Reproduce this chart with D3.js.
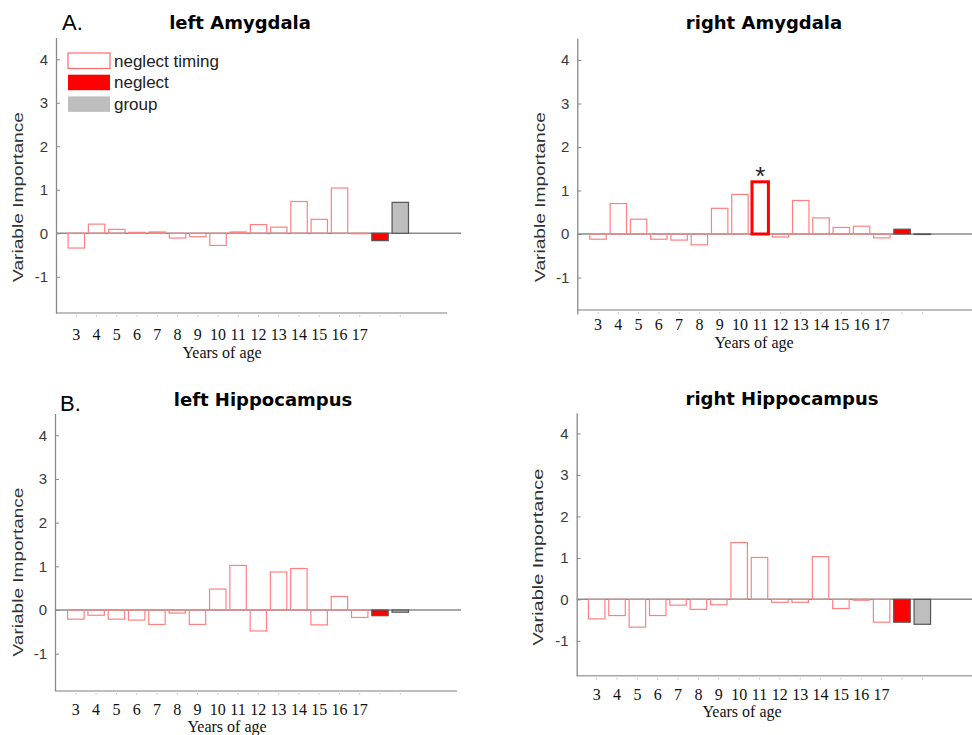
<!DOCTYPE html>
<html lang="en">
<head>
  <meta charset="UTF-8">
  <title>Variable Importance by age of neglect</title>
  <script src="https://d3js.org/d3.v7.min.js"></script>
</head>
<body style="margin: 0; background: #fff;">
<script>
  // data
  const ages = ["3", "4", "5", "6", "7", "8", "9", "10", "11", "12", "13", "14", "15", "16", "17"];
  const regions = ["left Amygdala", "right Amygdala", "left Hippocampus", "right Hippocampus"];

  const timingLeftAmygdala = [-0.34, 0.21, 0.09, 0.02, 0.03, -0.11, -0.08, -0.28, 0.03, 0.20, 0.14, 0.73, 0.32, 1.04, 0.0];
  const timingRightAmygdala = [-0.12, 0.70, 0.34, -0.12, -0.14, -0.25, 0.59, 0.91, 1.20, -0.07, 0.77, 0.37, 0.15, 0.18, -0.09];
  const timingLeftHippocampus = [-0.21, -0.12, -0.21, -0.23, -0.33, -0.07, -0.33, 0.48, 1.02, -0.48, 0.87, 0.95, -0.34, 0.31, -0.17];
  const timingRightHippocampus = [-0.47, -0.39, -0.67, -0.39, -0.14, -0.24, -0.13, 1.37, 1.01, -0.07, -0.07, 1.03, -0.22, -0.02, -0.55];

  const neglectValues = [-0.17, 0.11, -0.13, -0.55];
  const groupValues = [0.71, -0.01, -0.05, -0.60];

  const starredRegion = "right Amygdala";
  const starredAge = "11";

  const legendLabels = ["neglect timing", "neglect", "group"];
  const yTicks = [-1, 0, 1, 2, 3, 4];
  const yDomain = [-1.84, 4.5];

  const timingByRegion = [timingLeftAmygdala, timingRightAmygdala, timingLeftHippocampus, timingRightHippocampus];

  // panel placement
  const panels = [
    { tag: "A.", tagX: 62, tagY: 30, x0: 56, top: 37.5, bottom: 313.3, axisY: 313, axisEnd: 447, lineEnd: 461,
      barStart: 66.2, barEnd: 410.4, titleX: 240, titleY: 29, tickY: 339.5, xlabX: 222, xlabY: 358,
      ylabX: 23, ylabY: 197, ylabLen: 170, legend: true },
    { tag: null, x0: 577.3, top: 38.3, bottom: 314, axisY: 310, axisEnd: 972, lineEnd: 972,
      barStart: 587.9, barEnd: 932.5, titleX: 764, titleY: 29, tickY: 330, xlabX: 754, xlabY: 348,
      ylabX: 545, ylabY: 197, ylabLen: 170, legend: false },
    { tag: "B.", tagX: 60, tagY: 411, x0: 55, top: 413.4, bottom: 690.4, axisY: 691, axisEnd: 457, lineEnd: 461,
      barStart: 65.7, barEnd: 410.4, titleX: 263, titleY: 406, tickY: 714.5, xlabX: 227, xlabY: 732,
      ylabX: 23, ylabY: 572, ylabLen: 169, legend: false },
    { tag: null, x0: 576.7, top: 412.7, bottom: 675.7, axisY: 675.7, axisEnd: 972, lineEnd: 972,
      barStart: 586.5, barEnd: 932.5, titleX: 782, titleY: 405, tickY: 699.5, xlabX: 742, xlabY: 717,
      ylabX: 543, ylabY: 557, ylabLen: 177, legend: false }
  ];

  const timingColor = "#ff8080";
  const neglectColor = "#ff0000";
  const groupColor = "#bebebe";
  const axisColor = "#8a8a8a";

  const svg = d3.select("body").append("svg")
    .attr("width", 972)
    .attr("height", 735)
    .style("display", "block");

  const categories = ages.concat(["neglect", "group"]);

  panels.forEach((p, i) => {
    const region = regions[i];
    const g = svg.append("g");

    const x = d3.scaleBand()
      .domain(categories)
      .range([p.barStart, p.barEnd])
      .paddingInner(0.19)
      .paddingOuter(0.095);

    const y = d3.scaleLinear().domain(yDomain).range([p.bottom, p.top]);

    const bars = ages.map((a, k) => ({ key: a, value: timingByRegion[i][k], kind: "timing" }))
      .concat([
        { key: "neglect", value: neglectValues[i], kind: "neglect" },
        { key: "group", value: groupValues[i], kind: "group" }
      ]);

    // bottom axis line + small ticks
    g.append("line")
      .attr("x1", p.x0).attr("x2", p.axisEnd)
      .attr("y1", p.axisY).attr("y2", p.axisY)
      .attr("stroke", "#a8a8a8").attr("stroke-width", 1.5);

    g.selectAll(".xtick")
      .data(categories)
      .enter().append("line")
      .attr("x1", d => x(d) + x.bandwidth() / 2)
      .attr("x2", d => x(d) + x.bandwidth() / 2)
      .attr("y1", p.axisY + 2).attr("y2", p.axisY + 4)
      .attr("stroke", "#cccccc");

    // y axis
    const yAxis = g.append("g")
      .attr("transform", `translate(${p.x0},0)`)
      .call(d3.axisLeft(y).tickValues(yTicks).tickFormat(d => String(d))
        .tickSize(-4).tickSizeOuter(0).tickPadding(8));
    yAxis.select(".domain").attr("stroke", axisColor).attr("stroke-width", 1.3);
    yAxis.selectAll(".tick line").attr("stroke", axisColor);
    yAxis.selectAll(".tick text")
      .attr("fill", "#3a3a3a")
      .style("font-family", "'Liberation Sans', Arial, sans-serif")
      .style("font-size", "15px");

    // zero line
    g.append("line")
      .attr("x1", p.x0).attr("x2", p.lineEnd)
      .attr("y1", y(0)).attr("y2", y(0))
      .attr("stroke", axisColor).attr("stroke-width", 1.5);

    // bars
    g.selectAll(".bar")
      .data(bars)
      .enter().append("rect")
      .attr("x", d => x(d.key))
      .attr("width", x.bandwidth())
      .attr("y", d => y(Math.max(0, d.value)))
      .attr("height", d => Math.max(Math.abs(y(d.value) - y(0)), 0.5))
      .attr("fill", d => d.kind === "neglect" ? neglectColor : d.kind === "group" ? groupColor : "none")
      .attr("stroke", d => {
        if (d.kind !== "timing") return "#555";
        return (region === starredRegion && d.key === starredAge) ? "#ff0000" : timingColor;
      })
      .attr("stroke-width", d => (region === starredRegion && d.key === starredAge) ? 3 : 1.2);

    if (region === starredRegion) {
      const v = timingByRegion[i][ages.indexOf(starredAge)];
      g.append("text")
        .attr("x", x(starredAge) + x.bandwidth() / 2)
        .attr("y", y(v) + 3)
        .attr("text-anchor", "middle")
        .style("font-family", "'Liberation Sans', Arial, sans-serif")
        .style("font-size", "26px")
        .attr("fill", "#222")
        .text("*");
    }

    // x tick labels
    g.selectAll(".xlab")
      .data(ages)
      .enter().append("text")
      .attr("x", d => x(d) + x.bandwidth() / 2)
      .attr("y", p.tickY)
      .attr("text-anchor", "middle")
      .style("font-family", "'Liberation Serif', 'Times New Roman', serif")
      .style("font-size", "16px")
      .attr("fill", "#111")
      .text(d => d);

    g.append("text")
      .attr("x", p.xlabX)
      .attr("y", p.xlabY)
      .attr("text-anchor", "middle")
      .style("font-family", "'Liberation Serif', 'Times New Roman', serif")
      .style("font-size", "16px")
      .attr("fill", "#111")
      .text("Years of age");

    // y label, stretched along its baseline to the length in the figure
    const ylab = g.append("text")
      .attr("text-anchor", "middle")
      .style("font-family", "'Liberation Sans', Arial, sans-serif")
      .style("font-size", "15px")
      .attr("fill", "#333")
      .text("Variable Importance");
    const natural = ylab.node().getComputedTextLength();
    ylab.attr("transform", `translate(${p.ylabX},${p.ylabY}) rotate(-90) scale(${p.ylabLen / natural},1)`);

    // title
    g.append("text")
      .attr("x", p.titleX)
      .attr("y", p.titleY)
      .attr("text-anchor", "middle")
      .style("font-family", "'DejaVu Sans', sans-serif")
      .style("font-weight", "bold")
      .style("font-size", "18px")
      .attr("fill", "#000")
      .text(region);

    if (p.tag) {
      g.append("text")
        .attr("x", p.tagX)
        .attr("y", p.tagY)
        .style("font-family", "'Liberation Sans', Arial, sans-serif")
        .style("font-size", "22px")
        .attr("fill", "#000")
        .text(p.tag);
    }

    // legend
    if (p.legend) {
      const lg = g.append("g").attr("transform", "translate(68,53)");
      legendLabels.forEach((lab, k) => {
        const row = lg.append("g").attr("transform", `translate(0,${k * 21.7})`);
        row.append("rect")
          .attr("width", 42).attr("height", 15.5)
          .attr("fill", k === 0 ? "#fff" : k === 1 ? neglectColor : groupColor)
          .attr("stroke", k === 0 ? "#ff6a6a" : "none")
          .attr("stroke-width", 1.2);
        row.append("text")
          .attr("x", 46)
          .attr("y", 13.5)
          .style("font-family", "'Liberation Sans', Arial, sans-serif")
          .style("font-size", "17px")
          .attr("fill", "#222")
          .text(lab);
      });
    }
  });
</script>
</body>
</html>
